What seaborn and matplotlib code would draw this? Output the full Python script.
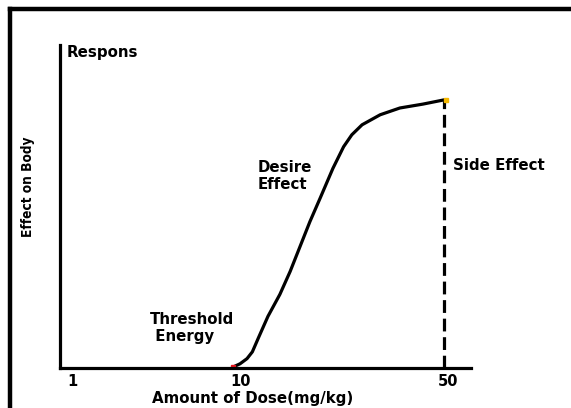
import numpy as np
import pandas as pd
import matplotlib
matplotlib.use("Agg")
import matplotlib.pyplot as plt
import seaborn as sns
from matplotlib.lines import Line2D

# dose-response curve (chart units: x 0-100 along the dose axis, y 0-100 response)
dose_pos = [42.1, 43.8, 45.5, 46.8, 48.3, 50.6, 53.5, 56.0, 58.4, 60.8, 63.3,
            66.4, 69.0, 71.0, 73.5, 77.9, 82.7, 88.3, 93.4]
response = [0.3, 1.3, 2.9, 5.0, 9.4, 16.0, 22.8, 29.9, 37.6, 45.3, 52.6,
            61.8, 68.5, 72.2, 75.3, 78.4, 80.5, 81.7, 83.0]
tick_pos = [3, 44, 94.5]
tick_labels = ["1", "10", "50"]
side_effect_dose = 93.4
side_effect_top = 83.0

df = pd.DataFrame({"dose": dose_pos, "response": response})

sns.set_style("white")
plt.rcParams["font.family"] = ["DejaVu Sans"]
plt.rcParams["text.color"] = "black"

W, H = 571, 408
fig = plt.figure(figsize=(W / 100, H / 100), dpi=100)
ax = fig.add_axes([60 / W, (H - 368) / H, (471 - 60) / W, (368 - 45) / H])

sns.lineplot(data=df, x="dose", y="response", ax=ax, color="black", linewidth=2.3)
ax.vlines(side_effect_dose, 0, side_effect_top, colors="black", linewidth=2.3,
          linestyles=(0, (4, 1.8)))
ax.plot(dose_pos[0], response[0], "s", color="#e8141c", markersize=3)
ax.plot(dose_pos[-1] + 0.5, response[-1], "s", color="#f5b800", markersize=2.5)

ax.set_xlim(0, 100)
ax.set_ylim(0, 100)
ax.set_xticks(tick_pos)
ax.set_xticklabels(tick_labels, fontsize=10.5, fontweight="bold", color="black")
ax.tick_params(axis="x", length=0, pad=4)
ax.set_yticks([82, 92])
ax.set_yticklabels([])
ax.tick_params(axis="y", length=2, width=0.6, color="#777777")
ax.set_xlabel("")
ax.set_ylabel("")
for s in ["top", "right"]:
    ax.spines[s].set_visible(False)
for s in ["left", "bottom"]:
    ax.spines[s].set_linewidth(2.3)
    ax.spines[s].set_color("black")

bold = dict(fontsize=10.8, fontweight="bold", color="black")
fig.text(67 / W, 1 - 52 / H, "Respons", ha="left", va="center", **bold)
fig.text(258 / W, 1 - 176 / H, "Desire\nEffect", ha="left", va="center",
         linespacing=1.2, **bold)
fig.text(453 / W, 1 - 166 / H, "Side Effect", ha="left", va="center", **bold)
fig.text(150 / W, 1 - 328 / H, "Threshold\n Energy", ha="left", va="center",
         linespacing=1.2, **bold)
fig.text(253 / W, 1 - 399 / H, "Amount of Dose(mg/kg)", ha="center", va="center",
         **bold)
fig.text(28 / W, 1 - 187 / H, "Effect on Body", ha="center", va="center",
         rotation=90, fontsize=9.8, fontweight="bold", fontstretch="condensed",
         color="black")

# outer frame (left and top edges visible)
fig.add_artist(Line2D([9.5 / W, 9.5 / W], [0, 1 - 9 / H], transform=fig.transFigure,
                      color="black", linewidth=3.2, solid_capstyle="projecting"))
fig.add_artist(Line2D([9.5 / W, 1], [1 - 9 / H, 1 - 9 / H], transform=fig.transFigure,
                      color="black", linewidth=3.2, solid_capstyle="projecting"))

fig.savefig("out.png", dpi=100)
